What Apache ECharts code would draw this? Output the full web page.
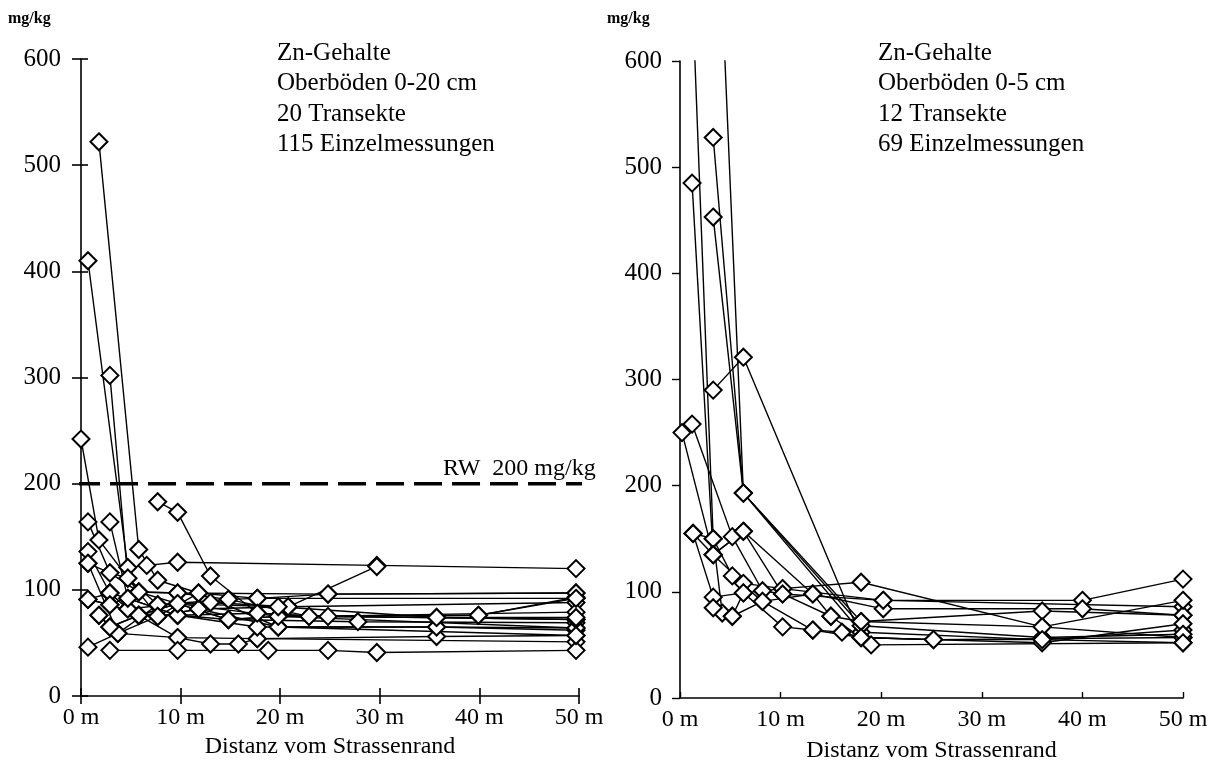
<!DOCTYPE html>
<html><head><meta charset="utf-8">
<script src="https://cdn.jsdelivr.net/npm/echarts/dist/echarts.min.js"></script>
<style>html,body{margin:0;padding:0;background:#fff}#c{width:1217px;height:770px}</style>
</head><body><div id="c"></div>
<script>
// ---- data (distance in m, Zn in mg/kg) ----
const xTickValues = [0, 10, 20, 30, 40, 50];
const yTickValues = [0, 100, 200, 300, 400, 500, 600];
const unitLabel = 'mg/kg';
const xAxisTitle = 'Distanz vom Strassenrand';
const leftInfo = ['Zn-Gehalte', 'Oberböden 0-20 cm', '20 Transekte', '115 Einzelmessungen'];
const rightInfo = ['Zn-Gehalte', 'Oberböden 0-5 cm', '12 Transekte', '69 Einzelmessungen'];
const guideValue = 200;
const guideLabel = 'RW  200 mg/kg';

const leftT01 = [[0,242],[1.8,147],[5.8,98],[9.7,87],[19.8,75],[49.7,64]];
const leftT02 = [[0.7,410],[4.7,121],[6.6,123],[9.7,126],[29.7,123],[49.7,120]];
const leftT03 = [[1.8,522],[5.8,138],[7.7,109],[11.8,97],[17.7,92],[49.7,92]];
const leftT04 = [[2.9,302],[4.7,111],[7.7,86],[13,88],[20.8,84],[29.7,122]];
const leftT05 = [[7.7,183],[9.7,173],[13,113],[17.7,78],[24.8,75],[49.7,72]];
const leftT06 = [[0.7,164],[2.9,116],[5.8,98],[9.7,97],[24.8,96],[49.7,97]];
const leftT07 = [[2.9,164],[4.7,92],[9.7,76],[14.8,72],[27.8,70],[49.7,69]];
const leftT08 = [[0.7,136],[2.9,97],[4.7,82],[7.7,75],[11.8,82],[19.8,65],[35.7,65],[49.7,62]];
const leftT09 = [[0.7,125],[3.7,59],[7.7,86],[14.8,91],[22.9,75],[39.9,76],[49.7,93]];
const leftT10 = [[0.7,91],[2.9,86],[5.8,76],[9.7,55],[17.7,54],[35.7,56],[49.7,57]];
const leftT11 = [[0.7,46],[3.7,59],[9.7,55],[13,49],[15.8,49],[17.7,54],[49.7,51]];
const leftT12 = [[2.9,43],[9.7,43],[18.8,43],[24.8,43],[29.7,41],[49.7,43]];
const leftT13 = [[1.8,76],[2.9,65],[5.8,76],[9.7,76],[17.7,65],[35.7,65],[49.7,64]];
const leftT14 = [[2.9,97],[4.7,82],[9.7,87],[14.8,72],[19.8,75],[35.7,74],[49.7,72]];
const leftT15 = [[0.7,125],[2.9,116],[4.7,111],[7.7,75],[11.8,82],[20.8,84],[49.7,88]];
const leftT16 = [[2.9,86],[5.8,98],[9.7,97],[14.8,91],[17.7,92],[24.8,96],[49.7,97]];
const leftT17 = [[1.8,76],[3.7,59],[7.7,75],[11.8,97],[19.8,65],[49.7,57]];
const leftT18 = [[0.7,91],[2.9,97],[4.7,92],[9.7,76],[17.7,78],[22.9,75],[49.7,79]];
const leftT19 = [[2.9,65],[5.8,76],[9.7,87],[14.8,72],[19.8,75],[39.9,76],[49.7,92]];
const leftT20 = [[0.7,91],[2.9,86],[5.8,76],[9.7,87],[19.8,84],[35.7,74],[49.7,74]];

const rightT01 = [[0.2,250],[3.3,135],[6.3,108],[10.2,103],[18,109],[36,67],[50,57]];
const rightT02 = [[1.2,258],[5.2,152],[8.2,101],[10.2,98],[20.2,92],[40,92],[50,112]];
const rightT03 = [[1.3,155],[3.3,95],[6.3,99],[10.2,67],[13.2,64],[16.1,62],[18,57],[25.2,55],[50,57]];
const rightT04 = [[1.3,155],[3.3,150],[5.2,115],[8.2,91],[13.2,98],[20.2,84],[40,84],[50,78]];
const rightT05 = [[1.0,720],[3.3,150],[4.2,80],[5.2,77],[6.3,99],[10.2,103],[20.2,92],[50,86]];
const rightT06 = [[1.2,485],[3.3,135],[6.3,157],[13.2,98],[15,77],[19,50],[50,52]];
const rightT07 = [[3.3,528],[6.3,193],[18,72],[36,82],[50,78]];
const rightT08 = [[3.3,453],[6.3,193],[18,62],[36,55],[50,64]];
const rightT09 = [[3.3,290],[6.3,321],[18,57],[36,52],[50,70]];
const rightT10 = [[3.3,860],[6.3,193],[18,68],[36,57],[50,60]];
const rightT11 = [[1.3,155],[3.3,135],[6.3,157],[10.2,98],[15,77],[18,72],[36,67],[50,92]];
const rightT12 = [[3.3,85],[5.2,77],[8.2,91],[13.2,64],[18,57],[25.2,55],[36,55],[50,52]];

const leftTransects = [leftT01,leftT02,leftT03,leftT04,leftT05,leftT06,leftT07,leftT08,leftT09,leftT10,
  leftT11,leftT12,leftT13,leftT14,leftT15,leftT16,leftT17,leftT18,leftT19,leftT20];
const rightTransects = [rightT01,rightT02,rightT03,rightT04,rightT05,rightT06,rightT07,rightT08,rightT09,rightT10,rightT11,rightT12];

// ---- chart ----
const FONT = '"Liberation Serif", "Times New Roman", serif';
const chart = echarts.init(document.getElementById('c'), null, {renderer: 'canvas'});
const X_MIN = xTickValues[0], X_MAX = xTickValues[xTickValues.length-1], X_INT = xTickValues[1]-xTickValues[0];
const Y_MIN = yTickValues[0], Y_MAX = yTickValues[yTickValues.length-1], Y_INT = yTickValues[1]-yTickValues[0];

function xAx(gi, opts) {
  return Object.assign({
    type: 'value', gridIndex: gi, min: X_MIN, max: X_MAX, interval: X_INT,
    axisLine: {show: true, onZero: false, lineStyle: {color: '#000', width: 1.6}},
    axisTick: {show: true, inside: false, length: 8, lineStyle: {color: '#000', width: 1.6}},
    axisLabel: {show: true, formatter: '{value} m', color: '#000', fontFamily: FONT, fontSize: 24, margin: 10},
    splitLine: {show: false}
  }, opts);
}
function yAx(gi, opts) {
  return Object.assign({
    type: 'value', gridIndex: gi, min: Y_MIN, max: Y_MAX, interval: Y_INT,
    axisLine: {show: true, onZero: false, lineStyle: {color: '#000', width: 1.6}},
    axisTick: {show: true, inside: false, length: 9, lineStyle: {color: '#000', width: 1.6}},
    axisLabel: {show: true, color: '#000', fontFamily: FONT, fontSize: 25, margin: 20},
    splitLine: {show: false}
  }, opts);
}

const series = [];
function addPanel(transects, xi, yi) {
  transects.forEach(t => series.push({
    type: 'line', xAxisIndex: xi, yAxisIndex: yi, data: t, symbol: 'none', clip: true,
    lineStyle: {color: '#000', width: 1.4}, z: 2, silent: true, animation: false
  }));
  series.push({
    type: 'scatter', xAxisIndex: xi, yAxisIndex: yi, data: transects.flat(), clip: true,
    symbol: 'diamond', symbolSize: 17,
    itemStyle: {color: '#fff', opacity: 1, borderColor: '#000', borderWidth: 2}, z: 4, silent: true, animation: false
  });
}
addPanel(leftTransects, 0, 0);
addPanel(rightTransects, 1, 1);
// RW guide line (left panel)
series.push({
  type: 'line', xAxisIndex: 0, yAxisIndex: 0, clip: false, symbol: 'none', silent: true, animation: false,
  data: [[-0.9, guideValue], [52, guideValue]],
  lineStyle: {color: '#000', width: 3.5, type: [28, 10]}, z: 3
});

function textBlock(lines, x, y0, dy) {
  return lines.map((s, i) => ({
    type: 'text', left: x, top: y0 + i*dy,
    style: {text: s, font: '25px ' + FONT, fill: '#000'}
  }));
}

const option = {
  backgroundColor: '#fff',
  animation: false,
  grid: [
    {left: 81, top: 59, width: 498, height: 637},
    {left: 680, top: 61, width: 503, height: 637},
    {left: 81, top: 59, width: 498, height: 637}
  ],
  xAxis: [
    xAx(0, {name: xAxisTitle, nameLocation: 'middle', nameGap: 39,
      nameTextStyle: {color: '#000', fontFamily: FONT, fontSize: 24}}),
    xAx(1, {name: xAxisTitle, nameLocation: 'middle', nameGap: 41,
      nameTextStyle: {color: '#000', fontFamily: FONT, fontSize: 24},
      axisTick: {show: true, inside: true, length: 6, lineStyle: {color: '#000', width: 1.4}}}),
    xAx(2, {axisLine: {show: false}, axisLabel: {show: false},
      axisTick: {show: true, inside: true, length: 8, lineStyle: {color: '#000', width: 1.6}}})
  ],
  yAxis: [
    yAx(0, {}),
    yAx(1, {axisLabel: {show: true, color: '#000', fontFamily: FONT, fontSize: 25, margin: 18},
      axisTick: {show: true, inside: false, length: 8, lineStyle: {color: '#000', width: 1.4}}}),
    yAx(2, {axisLine: {show: false}, axisLabel: {show: false},
      axisTick: {show: true, inside: true, length: 7, lineStyle: {color: '#000', width: 1.6}}})
  ],
  series: series,
  graphic: [
    {type: 'text', left: 8, top: 11, style: {text: unitLabel, font: 'bold 16px ' + FONT, fill: '#000'}},
    {type: 'text', left: 607, top: 11, style: {text: unitLabel, font: 'bold 16px ' + FONT, fill: '#000'}},
    ...textBlock(leftInfo, 277, 41, 30.3),
    ...textBlock(rightInfo, 878, 41, 30.3),
    {type: 'text', left: 443, top: 457, style: {text: guideLabel, font: '24px ' + FONT, fill: '#000'}}
  ]
};
chart.setOption(option);
</script>
</body></html>
